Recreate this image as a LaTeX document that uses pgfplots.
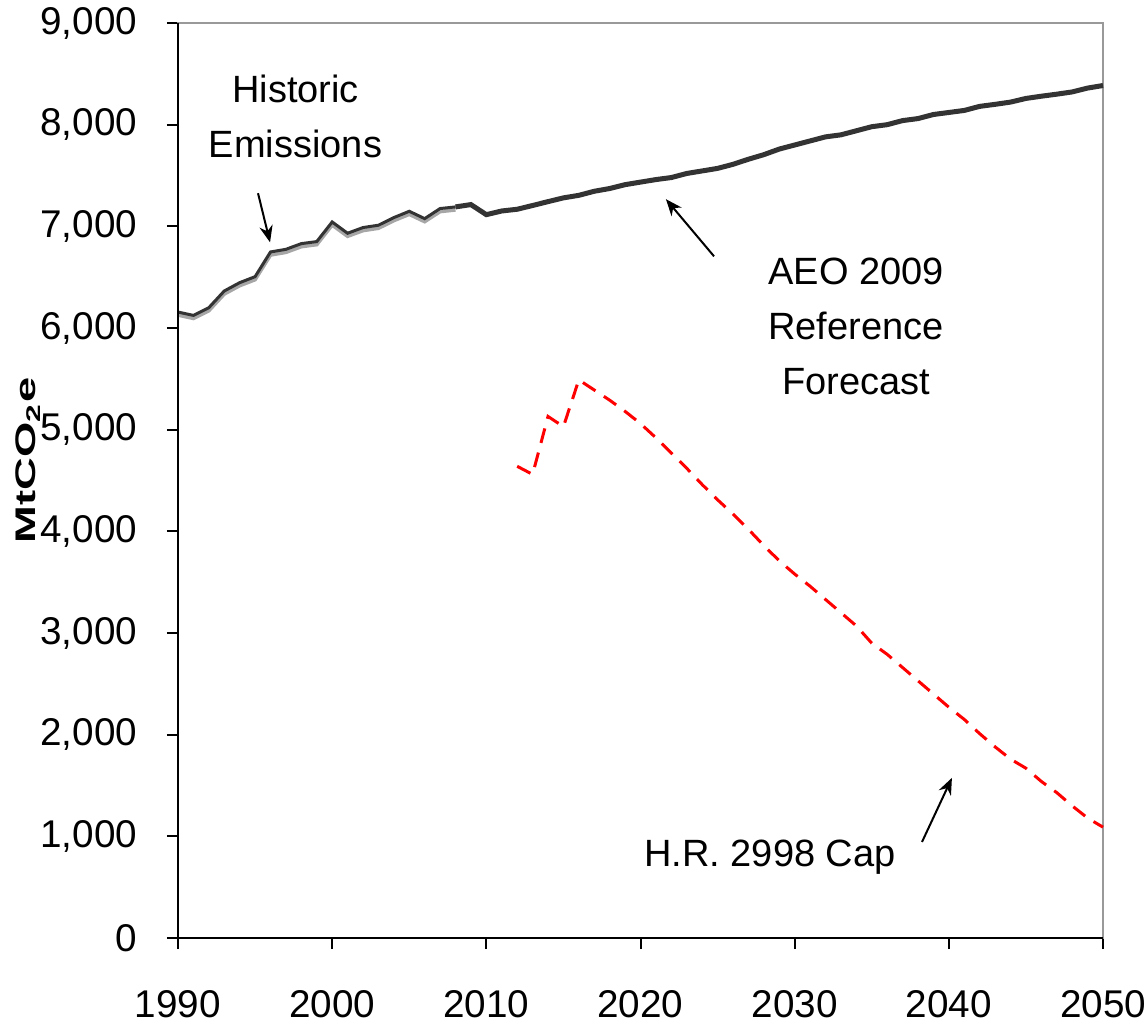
\documentclass[border=0pt]{standalone}
\usepackage{fontspec}
\setmainfont{Liberation Sans}
\usepackage{graphicx}
\usepackage{pgfplots}
\pgfplotsset{compat=1.18}
\usetikzlibrary{arrows.meta}

\pgfplotstableread{
year value
1990 6157
1991 6124
1992 6200
1993 6364
1994 6446
1995 6505
1996 6748
1997 6774
1998 6830
1999 6850
2000 7043
2001 6932
2002 6988
2003 7011
2004 7086
2005 7148
2006 7076
2007 7175
2008 7191
}\historic

\pgfplotstableread{
year value
2008 7191
2009 7214
2010 7115
2011 7151
2012 7168
2013 7205
2014 7243
2015 7280
2016 7305
2017 7345
2018 7372
2019 7410
2020 7435
2021 7460
2022 7480
2023 7520
2024 7545
2025 7570
2026 7610
2027 7660
2028 7705
2029 7760
2030 7800
2031 7840
2032 7880
2033 7900
2034 7940
2035 7980
2036 8000
2037 8040
2038 8060
2039 8100
2040 8120
2041 8140
2042 8180
2043 8200
2044 8222
2045 8258
2046 8280
2047 8300
2048 8322
2049 8360
2050 8385
}\forecast

\pgfplotstableread{
year value
2012 4640
2013 4560
2014 5130
2015 5030
2016 5490
2017 5390
2018 5290
2019 5180
2020 5060
2021 4920
2022 4770
2023 4620
2024 4460
2025 4310
2026 4170
2027 4020
2028 3860
2029 3710
2030 3580
2031 3460
2032 3330
2033 3200
2034 3070
2035 2900
2036 2790
2037 2660
2038 2530
2039 2400
2040 2270
2041 2150
2042 2010
2043 1880
2044 1760
2045 1670
2046 1540
2047 1430
2048 1300
2049 1180
2050 1090
}\cap

\begin{document}
\begin{tikzpicture}[font=\fontsize{11.4}{16.5}\selectfont]
\begin{axis}[
  scale only axis,
  width=277.5pt, height=274.5pt,
  xmin=1990, xmax=2050, ymin=0, ymax=9000,
  xtick={1990,2000,...,2050},
  ytick={0,1000,...,9000},
  xticklabel style={/pgf/number format/1000 sep={}, yshift=-9pt},
  yticklabel style={/pgf/number format/1000 sep={,}, xshift=-5.4pt},
  /pgf/number format/assume math mode=true,
  ticklabel style={font=\fontsize{11.6}{13}\selectfont},
  tick align=outside,
  major tick length=3.3pt,
  xtick pos=left, ytick pos=left,
  tick style={black, line width=0.6pt},
  axis line style={black!40, line width=0.7pt},
  clip=false,
]
\addplot[black!35, line width=1.1pt, yshift=-0.9pt] table[x=year,y=value] {\historic};
\addplot[black!80, line width=0.9pt] table[x=year,y=value] {\historic};
\addplot[black!80, line width=1.5pt] table[x=year,y=value] {\forecast};
\addplot[red, line width=0.9pt, dash pattern=on 4.5pt off 3pt] table[x=year,y=value] {\cap};

\draw[black, line width=0.7pt] (rel axis cs:0,1) -- (rel axis cs:0,0) -- (rel axis cs:1,0);
\coordinate (O) at (rel axis cs:0,0);

\node[align=center] at (axis cs:1997.62,8079) {Historic\\Emissions};
\draw[-{Stealth[length=5pt,width=4pt]}, line width=0.6pt] (axis cs:1995.19,7326) -- (axis cs:1995.97,6843);

\node[align=center] at (axis cs:2033.98,6016) {AEO 2009\\Reference\\Forecast};
\draw[-{Stealth[length=5pt,width=4pt]}, line width=0.6pt] (axis cs:2024.77,6705) -- (axis cs:2021.65,7267);

\node at (axis cs:2028.4,797) {H.R. 2998 Cap};
\draw[-{Stealth[length=5pt,width=4pt]}, line width=0.6pt] (axis cs:2038.26,945) -- (axis cs:2040.2,1575);

\node[rotate=90] at (axis cs:1980.27,4700) {\scalebox{1.6}[1]{\fontsize{8.5}{10}\selectfont\bfseries MtCO\textsubscript{2}e}};
\end{axis}
\pgfresetboundingbox
\path[use as bounding box] (O) ++(-53.4pt,-25.8pt) rectangle ++(344.1pt,307.2pt);
\end{tikzpicture}
\end{document}
